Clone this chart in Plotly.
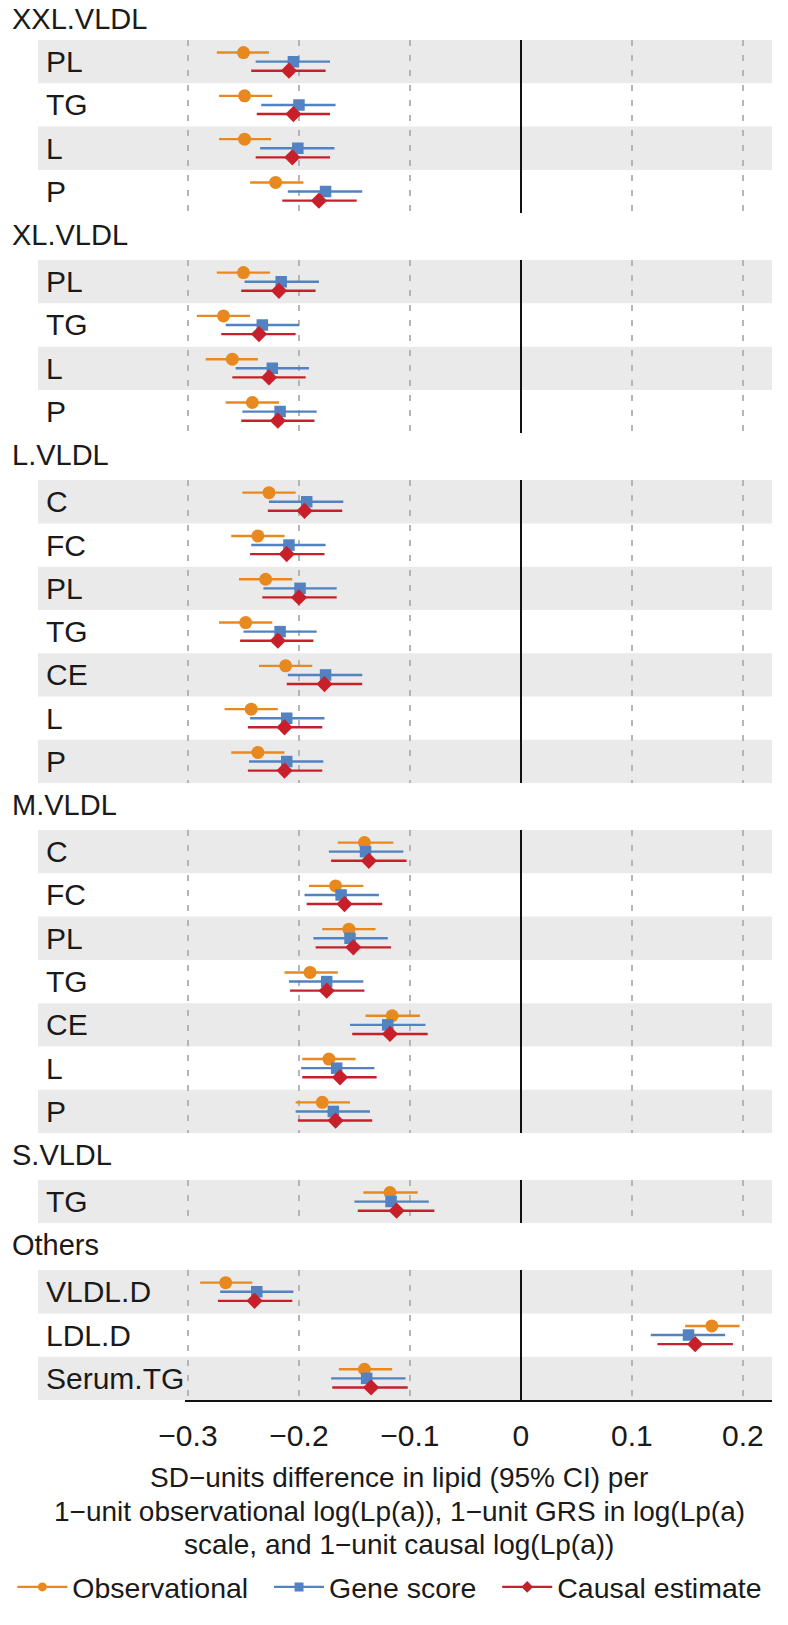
import plotly.graph_objects as go
from plotly.subplots import make_subplots

# ---------------- data ----------------
groups = ["XXL.VLDL", "XL.VLDL", "L.VLDL", "M.VLDL", "S.VLDL", "Others"]
group_rows = [
    ["PL", "TG", "L", "P"],
    ["PL", "TG", "L", "P"],
    ["C", "FC", "PL", "TG", "CE", "L", "P"],
    ["C", "FC", "PL", "TG", "CE", "L", "P"],
    ["TG"],
    ["VLDL.D", "LDL.D", "Serum.TG"],
]

obs_est = [-0.250, -0.249, -0.249, -0.221,
           -0.250, -0.268, -0.260, -0.242,
           -0.227, -0.237, -0.230, -0.248, -0.212, -0.243, -0.237,
           -0.141, -0.167, -0.155, -0.190, -0.116, -0.173, -0.179,
           -0.118,
           -0.266, 0.172, -0.141]
obs_lo = [-0.274, -0.272, -0.272, -0.244,
          -0.274, -0.292, -0.284, -0.266,
          -0.251, -0.261, -0.254, -0.272, -0.236, -0.267, -0.261,
          -0.165, -0.191, -0.179, -0.213, -0.140, -0.197, -0.203,
          -0.142,
          -0.289, 0.148, -0.164]
obs_hi = [-0.227, -0.224, -0.225, -0.196,
          -0.226, -0.244, -0.237, -0.218,
          -0.203, -0.213, -0.206, -0.224, -0.188, -0.219, -0.213,
          -0.115, -0.142, -0.131, -0.165, -0.091, -0.149, -0.154,
          -0.093,
          -0.242, 0.197, -0.116]

grs_est = [-0.205, -0.200, -0.201, -0.176,
           -0.216, -0.233, -0.224, -0.217,
           -0.193, -0.209, -0.199, -0.217, -0.176, -0.211, -0.211,
           -0.140, -0.162, -0.154, -0.175, -0.120, -0.166, -0.169,
           -0.117,
           -0.238, 0.151, -0.139]
grs_lo = [-0.239, -0.234, -0.235, -0.210,
          -0.249, -0.266, -0.257, -0.251,
          -0.227, -0.243, -0.232, -0.250, -0.210, -0.244, -0.245,
          -0.173, -0.195, -0.187, -0.209, -0.154, -0.198, -0.203,
          -0.150,
          -0.271, 0.117, -0.171]
grs_hi = [-0.172, -0.167, -0.168, -0.143,
          -0.182, -0.200, -0.191, -0.184,
          -0.160, -0.176, -0.166, -0.184, -0.143, -0.177, -0.178,
          -0.106, -0.128, -0.120, -0.142, -0.086, -0.132, -0.136,
          -0.083,
          -0.205, 0.184, -0.104]

cau_est = [-0.209, -0.205, -0.206, -0.182,
           -0.218, -0.236, -0.227, -0.219,
           -0.195, -0.211, -0.200, -0.219, -0.177, -0.213, -0.213,
           -0.137, -0.159, -0.151, -0.175, -0.118, -0.163, -0.167,
           -0.112,
           -0.240, 0.157, -0.135]
cau_lo = [-0.243, -0.238, -0.239, -0.215,
          -0.252, -0.270, -0.260, -0.252,
          -0.228, -0.244, -0.233, -0.253, -0.211, -0.246, -0.246,
          -0.171, -0.193, -0.185, -0.208, -0.152, -0.197, -0.201,
          -0.147,
          -0.273, 0.123, -0.170]
cau_hi = [-0.176, -0.172, -0.172, -0.148,
          -0.185, -0.203, -0.194, -0.186,
          -0.161, -0.177, -0.166, -0.187, -0.143, -0.179, -0.179,
          -0.103, -0.125, -0.117, -0.141, -0.084, -0.130, -0.134,
          -0.078,
          -0.206, 0.191, -0.102]

tick_vals = [-0.3, -0.2, -0.1, 0, 0.1, 0.2]
tick_text = ["\u22120.3", "\u22120.2", "\u22120.1", "0", "0.1", "0.2"]

series_names = ["Observational", "Gene score", "Causal estimate"]
axis_title_lines = [
    "SD\u2212units difference in lipid (95% CI) per",
    "1\u2212unit observational log(Lp(a)), 1\u2212unit GRS in log(Lp(a)",
    "scale, and 1\u2212unit causal log(Lp(a))",
]

# ---------------- style / layout ----------------
W, H = 788, 1625
ML, MR, MT, MB = 177, 16, 40, 206
PW, PH = W - ML - MR, H - MT - MB
GAP_PX = 47.5
FONT = "Liberation Sans"
FS_HEAD = 29
FS_LAB = 30
FS_TICK = 30
FS_TITLE = 28
FS_LEG = 28.5
TXT = "#1a1a1a"
colors = ["#E8891F", "#5282C2", "#C8202B"]
symbols = ["circle", "square", "diamond"]
msizes = [13, 11.5, 12.5]
offsets = [-0.21, 0.0, 0.21]
band_color = "#EAEAEA"
x_range = [(ML - 517.5) / 1125.0, (W - MR - 517.5) / 1125.0]

def px_to_paper_x(px):
    return (px - ML) / PW

def px_to_paper_y(py):
    return (H - MB - py) / PH

counts = [len(r) for r in group_rows]
fig = make_subplots(rows=len(groups), cols=1, shared_xaxes=True,
                    row_heights=counts, vertical_spacing=GAP_PX / PH)

series = [(obs_est, obs_lo, obs_hi), (grs_est, grs_lo, grs_hi), (cau_est, cau_lo, cau_hi)]

start = 0
shapes = []
annotations = []
for g, (gname, rows) in enumerate(zip(groups, group_rows)):
    n = len(rows)
    k = g + 1
    ysuf = "" if k == 1 else str(k)
    idx = list(range(n))
    for s, (est, lo, hi) in enumerate(series):
        e = est[start:start + n]
        l = lo[start:start + n]
        h = hi[start:start + n]
        fig.add_trace(go.Scatter(
            x=e, y=[i + offsets[s] for i in idx], mode="markers",
            marker=dict(symbol=symbols[s], size=msizes[s], color=colors[s]),
            error_x=dict(type="data", symmetric=False,
                         array=[b - a for a, b in zip(e, h)],
                         arrayminus=[a - b for a, b in zip(e, l)],
                         thickness=2.4, width=0, color=colors[s]),
            showlegend=False, name=series_names[s], hoverinfo="skip"),
            row=k, col=1)
    for i, lab in enumerate(rows):
        if i % 2 == 0:
            shapes.append(dict(type="rect", xref="paper", yref="y" + ysuf,
                               x0=px_to_paper_x(28), x1=1.0,
                               y0=i - 0.5, y1=i + 0.5,
                               fillcolor=band_color, line=dict(width=0),
                               layer="below"))
        annotations.append(dict(text=lab, xref="paper", yref="y" + ysuf,
                                x=px_to_paper_x(34), y=i, xanchor="left",
                                yanchor="middle", showarrow=False,
                                font=dict(size=FS_LAB, color=TXT, family=FONT)))
    annotations.append(dict(text=gname, xref="paper", yref="y" + ysuf + " domain",
                            x=px_to_paper_x(0), y=1, yshift=21 if k == 1 else 25,
                            xanchor="left", yanchor="middle", showarrow=False,
                            font=dict(size=FS_HEAD, color=TXT, family=FONT)))
    fig.update_yaxes(range=[n - 0.5, -0.5], showticklabels=False, showgrid=False,
                     zeroline=False, showline=False, ticks="", row=k, col=1)
    last = (k == len(groups))
    fig.update_xaxes(range=x_range, tickvals=tick_vals, ticktext=tick_text,
                     showgrid=True, gridcolor="#B5B5B5", gridwidth=1.6,
                     griddash="6px,9px",
                     zeroline=True, zerolinecolor="#111111", zerolinewidth=2.2,
                     showticklabels=last, ticks="",
                     showline=last, linecolor="#111111", linewidth=1.6,
                     tickfont=dict(size=FS_TICK, color=TXT, family=FONT),
                     ticklabelstandoff=8,
                     row=k, col=1)
    start += n

# legend-only traces (non-breaking spaces give the gaps between entries)
pad = ["\u00a0\u00a0", "\u00a0\u00a0", ""]
for s in range(3):
    fig.add_trace(go.Scatter(x=[None], y=[None], mode="lines+markers",
                             name=series_names[s] + pad[s],
                             line=dict(color=colors[s], width=2.4),
                             marker=dict(symbol=symbols[s], size=9, color=colors[s]),
                             showlegend=True), row=len(groups), col=1)

# axis title lines
for j, (line, py) in enumerate(zip(axis_title_lines, [1498, 1532, 1566])):
    annotations.append(dict(text=line, xref="paper", yref="paper",
                            x=px_to_paper_x(394), y=px_to_paper_y(py),
                            xanchor="center", yanchor="middle", showarrow=False,
                            font=dict(size=FS_TITLE, color=TXT, family=FONT)))

fig.update_layout(
    width=W, height=H,
    margin=dict(l=ML, r=MR, t=MT, b=MB),
    paper_bgcolor="white", plot_bgcolor="rgba(0,0,0,0)",
    font=dict(family=FONT, size=FS_LAB, color=TXT),
    shapes=shapes, annotations=annotations,
    showlegend=True,
    legend=dict(orientation="h", x=px_to_paper_x(2), y=px_to_paper_y(1609),
                xanchor="left", yanchor="middle",
                font=dict(size=FS_LEG, color=TXT, family=FONT),
                itemwidth=50,
                bgcolor="rgba(0,0,0,0)", borderwidth=0, tracegroupgap=0),
)

fig.write_html("out.html", config={"displayModeBar": False},
               post_script="document.body.style.margin='0px';")
